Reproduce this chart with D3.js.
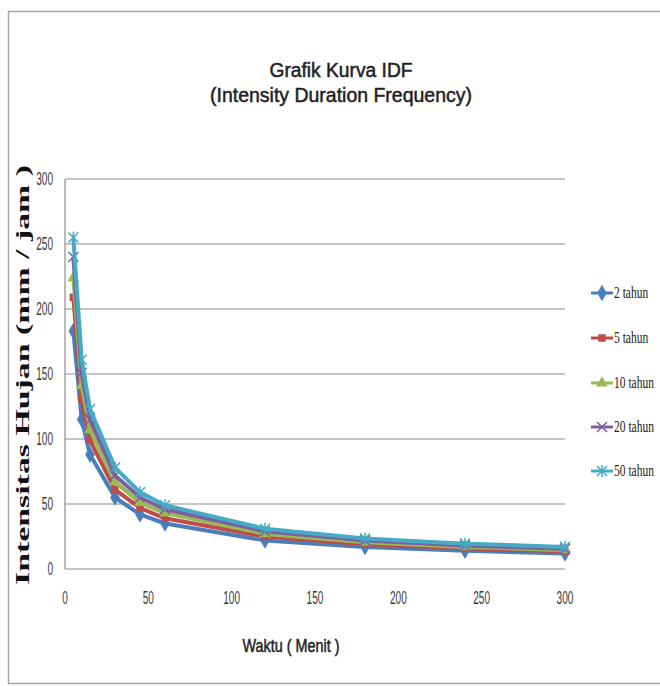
<!DOCTYPE html>
<html><head><meta charset="utf-8">
<script src="https://cdn.jsdelivr.net/npm/d3@7"></script>
<style>body{margin:0;background:#fff}svg{display:block}</style>
</head><body>
<script>
const durations = [5, 10, 15, 30, 45, 60, 120, 180, 240, 300];
const seriesNames = ["2 tahun", "5 tahun", "10 tahun", "20 tahun", "50 tahun"];
const s2 = [183, 115, 88, 55, 42, 35, 22, 17, 14, 12];
const s5 = [209, 131, 99, 61, 47, 39, 25, 19, 16, 13.5];
const s10 = [224, 141, 107, 67, 51, 43, 27, 20.5, 17, 14.5];
const s20 = [240, 151, 115, 72, 55, 46, 29, 22, 18, 15.5];
const s50 = [255, 161, 123, 78, 59, 49, 31, 23.5, 19.5, 17];
const yTicks = [0, 50, 100, 150, 200, 250, 300];
const xTicks = [0, 50, 100, 150, 200, 250, 300];
const colors = ["#4a7ebb", "#be4b48", "#98b954", "#7d60a0", "#46aac5"];
const markers = ["diamond", "square", "triangle", "x", "star"];
const allSeries = [s2, s5, s10, s20, s50];

const W = 660, H = 686;
const svg = d3.select("body").append("svg").attr("width", W).attr("height", H);
svg.append("rect").attr("x", 8.5).attr("y", 11.5).attr("width", 670).attr("height", 672)
  .attr("fill", "#fff").attr("stroke", "#a6a6a6").attr("stroke-width", 1.5);

const x = d3.scaleLinear().domain([0, 300]).range([65, 565]);
const y = d3.scaleLinear().domain([0, 300]).range([569, 179]);

svg.append("g").selectAll("line").data(yTicks).join("line")
  .attr("x1", 65).attr("x2", 565).attr("y1", d => y(d)).attr("y2", d => y(d))
  .attr("stroke", "#8c8c8c").attr("stroke-width", 1.2);
svg.append("line").attr("x1", 65).attr("x2", 65).attr("y1", 179).attr("y2", 569)
  .attr("stroke", "#8c8c8c").attr("stroke-width", 1.2);

const tickFont = "'Liberation Sans', Arial, sans-serif";
svg.append("g").selectAll("text").data(yTicks).join("text")
  .attr("x", 53).attr("y", d => y(d) + 6).attr("text-anchor", "end")
  .attr("font-family", tickFont).attr("font-size", 18).attr("fill", "#3a3a3a")
  .attr("transform", `translate(53,0) scale(0.56,1) translate(-53,0)`)
  .text(d => d);
svg.append("g").selectAll("text").data(xTicks).join("text")
  .attr("x", d => x(d)).attr("y", 604).attr("text-anchor", "middle")
  .attr("font-family", tickFont).attr("font-size", 18).attr("fill", "#3a3a3a")
  .attr("transform", d => `translate(${x(d)},0) scale(0.56,1) translate(${-x(d)},0)`)
  .text(d => d);

const titleFont = "'Liberation Sans', Arial, sans-serif";
svg.append("text").attr("x", 341).attr("y", 77).attr("text-anchor", "middle")
  .attr("font-family", titleFont).attr("font-size", 20)
  .attr("fill", "#222").attr("stroke", "#222").attr("stroke-width", 0.5)
  .attr("textLength", 143).attr("lengthAdjust", "spacingAndGlyphs")
  .text("Grafik Kurva IDF");
svg.append("text").attr("x", 341).attr("y", 102).attr("text-anchor", "middle")
  .attr("font-family", titleFont).attr("font-size", 20)
  .attr("fill", "#222").attr("stroke", "#222").attr("stroke-width", 0.5)
  .attr("textLength", 262).attr("lengthAdjust", "spacingAndGlyphs")
  .text("(Intensity Duration Frequency)");
svg.append("text").attr("x", 291).attr("y", 652).attr("text-anchor", "middle")
  .attr("font-family", titleFont).attr("font-size", 18)
  .attr("fill", "#222").attr("stroke", "#222").attr("stroke-width", 0.5)
  .attr("textLength", 97).attr("lengthAdjust", "spacingAndGlyphs")
  .text("Waktu ( Menit )");
svg.append("text").attr("transform", "translate(29,375) rotate(-90)").attr("text-anchor", "middle")
  .attr("font-family", "'Liberation Serif', serif").attr("font-size", 19).attr("font-weight", "bold")
  .attr("fill", "#111").attr("textLength", 420).attr("lengthAdjust", "spacingAndGlyphs")
  .text("Intensitas Hujan (mm / jam )");

const symbolFor = m => ({
  diamond: d3.symbolDiamond, square: d3.symbolSquare, triangle: d3.symbolTriangle
})[m];

function drawMarker(g, m, cx, cy, color) {
  if (m === "x" || m === "star") {
    const r = 5;
    const p = m === "x"
      ? `M${cx-r},${cy-r}L${cx+r},${cy+r}M${cx-r},${cy+r}L${cx+r},${cy-r}`
      : `M${cx-r},${cy-r}L${cx+r},${cy+r}M${cx-r},${cy+r}L${cx+r},${cy-r}M${cx},${cy-r-1}L${cx},${cy+r+1}`;
    g.append("path").attr("d", p).attr("stroke", color).attr("stroke-width", 1.5).attr("fill", "none");
  } else {
    const size = m === "diamond" ? 80 : m === "square" ? 55 : 60;
    g.append("path").attr("d", d3.symbol().type(symbolFor(m)).size(size)())
      .attr("transform", `translate(${cx},${cy})`).attr("fill", color);
  }
}

const line = d3.line().x((d, i) => x(durations[i])).y(d => y(d));
allSeries.forEach((s, k) => {
  const g = svg.append("g");
  g.append("path").datum(s).attr("d", line).attr("fill", "none")
    .attr("stroke", colors[k]).attr("stroke-width", 4).attr("stroke-linejoin", "round");
  s.forEach((v, i) => drawMarker(g, markers[k], x(durations[i]), y(v), colors[k]));
});

const legY = [293, 338, 383, 427, 471];
seriesNames.forEach((name, k) => {
  const g = svg.append("g");
  g.append("line").attr("x1", 591).attr("x2", 613).attr("y1", legY[k]).attr("y2", legY[k])
    .attr("stroke", colors[k]).attr("stroke-width", 3);
  drawMarker(g, markers[k], 602, legY[k], colors[k]);
  g.append("text").attr("x", 614).attr("y", legY[k] + 5)
    .attr("font-family", "'Liberation Serif', serif").attr("font-size", 16).attr("fill", "#222")
    .attr("transform", `translate(614,0) scale(0.72,1) translate(-614,0)`)
    .text(name);
});
</script>
</body></html>
